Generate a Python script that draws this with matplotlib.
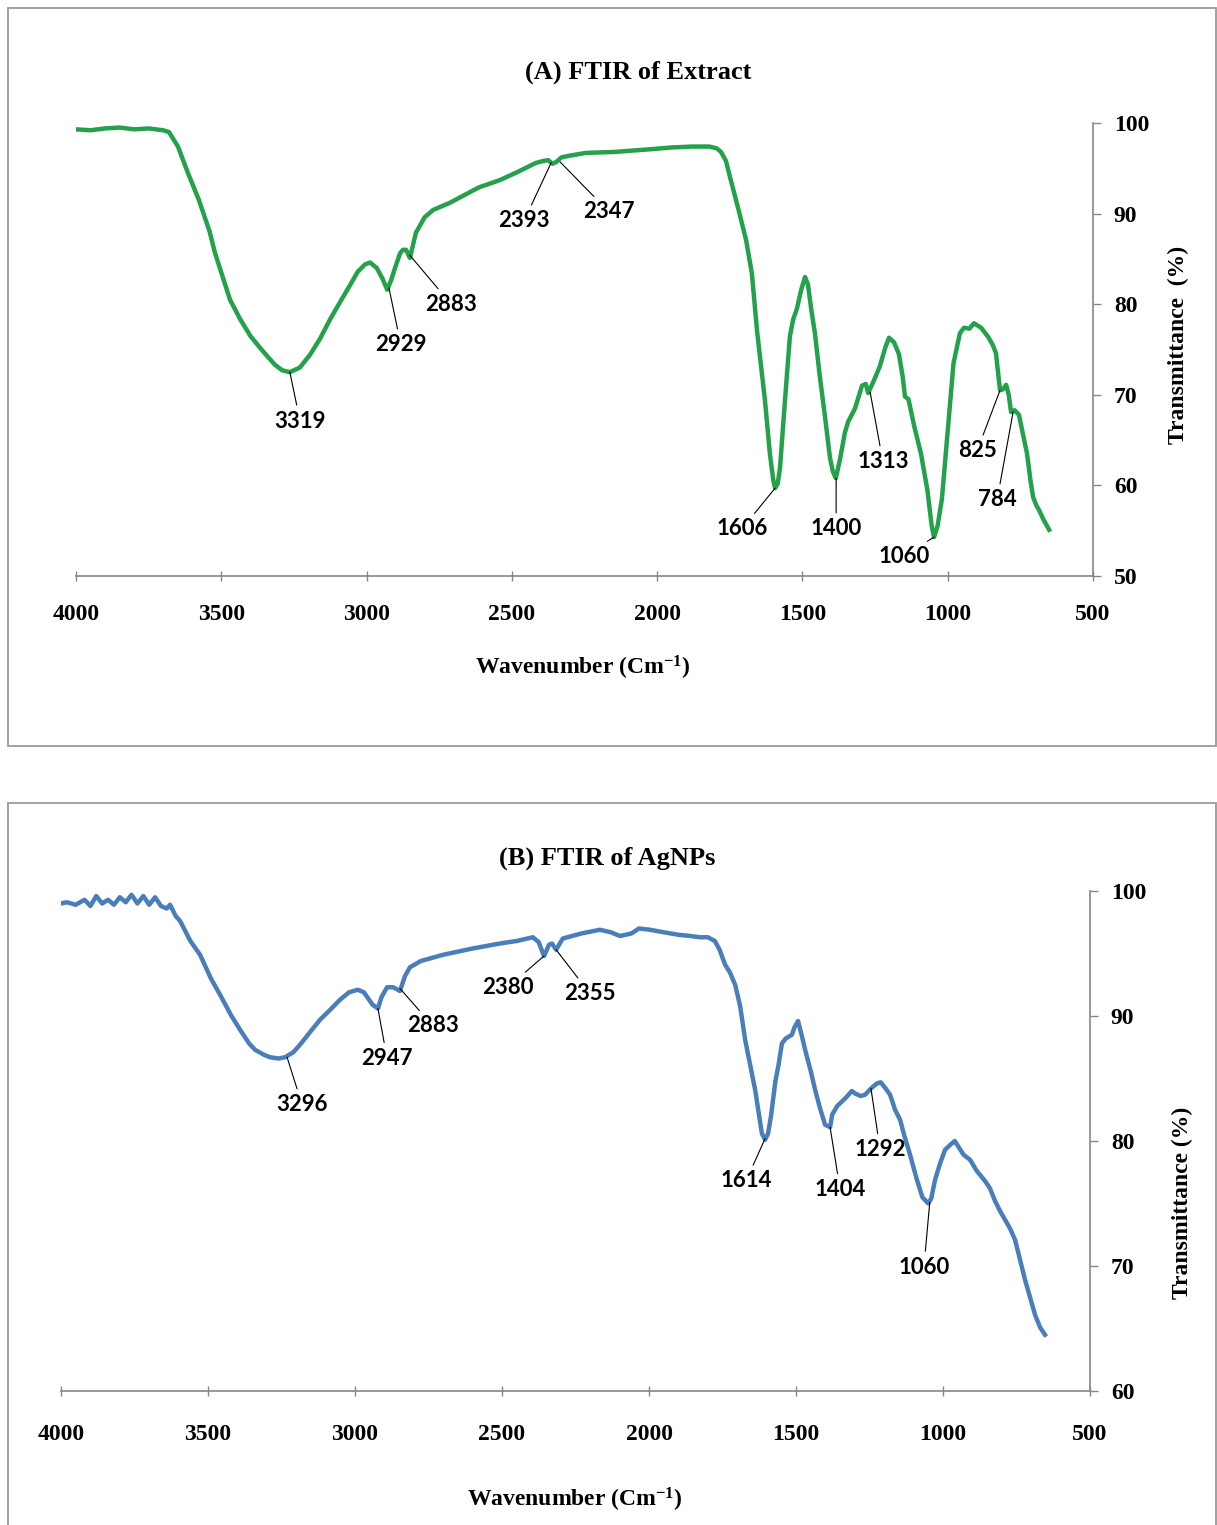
import matplotlib
matplotlib.use("Agg")
import matplotlib.pyplot as plt
from matplotlib.patches import Rectangle

# ---- panel A: FTIR of extract ----
wn_a = [4000, 3950, 3900, 3850, 3800, 3750, 3700, 3680, 3649, 3615, 3577, 3540,
        3522, 3470, 3436, 3400, 3367, 3340, 3315, 3290, 3264, 3230, 3195, 3160,
        3126, 3090, 3057, 3030, 3005, 2988, 2965, 2945, 2929, 2916, 2902, 2885,
        2875, 2864, 2851, 2830, 2800, 2771, 2713, 2613, 2541, 2480, 2417, 2393,
        2375, 2360, 2347, 2330, 2300, 2245, 2150, 2024, 1950, 1880, 1820, 1795,
        1780, 1763, 1749, 1735, 1715, 1694, 1674, 1656, 1640, 1629, 1612, 1600,
        1594, 1585, 1577, 1560, 1543, 1532, 1519, 1505, 1491, 1481, 1470, 1457,
        1440, 1422, 1405, 1395, 1385, 1370, 1354, 1343, 1319, 1295, 1282, 1274,
        1255, 1233, 1215, 1202, 1185, 1168, 1155, 1147, 1135, 1115, 1092, 1070,
        1055, 1047, 1035, 1020, 1000, 980, 958, 944, 925, 910, 885, 861, 845,
        834, 825, 820, 810, 799, 790, 782, 770, 755, 740, 727, 715, 706, 695,
        686, 670, 651]
t_a = [99.3, 99.2, 99.4, 99.5, 99.3, 99.4, 99.2, 99.0, 97.4, 94.5, 91.5, 88.0,
       85.7, 80.5, 78.4, 76.5, 75.2, 74.2, 73.3, 72.7, 72.5, 73.0, 74.4, 76.2,
       78.3, 80.3, 82.1, 83.6, 84.4, 84.6, 84.0, 82.8, 81.6, 82.6, 84.0, 85.6,
       86.0, 86.0, 85.1, 87.9, 89.6, 90.4, 91.2, 92.9, 93.7, 94.6, 95.6, 95.8,
       95.9, 95.5, 95.7, 96.2, 96.4, 96.7, 96.8, 97.1, 97.3, 97.4, 97.4, 97.2,
       96.8, 95.8, 94.0, 92.3, 89.8, 87.1, 83.4, 77.0, 72.5, 69.4, 63.5, 60.5,
       59.7, 60.2, 62.0, 69.4, 76.5, 78.3, 79.5, 81.5, 83.0, 82.2, 79.5, 76.8,
       72.0, 67.5, 63.0, 61.5, 60.8, 63.0, 65.8, 67.0, 68.5, 71.0, 71.2, 70.2,
       71.5, 73.2, 75.2, 76.3, 75.8, 74.5, 72.0, 69.8, 69.5, 66.5, 63.5, 59.5,
       55.5, 54.3, 55.5, 58.5, 66.0, 73.5, 76.8, 77.4, 77.3, 77.9, 77.4, 76.4,
       75.5, 74.6, 72.0, 70.5, 70.6, 71.1, 70.0, 68.1, 68.3, 67.8, 65.5, 63.5,
       60.5, 58.7, 57.8, 57.3, 56.2, 55.1]

peaks_a = ["3319", "2929", "2883", "2393", "2347", "1606", "1400", "1313",
           "1060", "825", "784"]
peak_xy_a = [(3264, 72.5), (2923, 81.8), (2851, 85.4), (2365, 95.6),
             (2334, 95.7), (1594, 59.7), (1384, 60.8), (1267, 70.3),
             (1047, 54.3), (820, 70.5), (775, 68.1)]
label_xy_a = [(3229, 67.1), (2882, 75.5), (2709, 80.0), (2458, 89.2),
              (2166, 90.2), (1708, 55.2), (1384, 55.2), (1223, 62.6),
              (1150, 52.2), (899, 63.8), (830, 58.4)]

# ---- panel B: FTIR of AgNPs ----
wn_b = [4000, 3980, 3950, 3920, 3900, 3880, 3860, 3840, 3820, 3800, 3780, 3760,
        3740, 3720, 3700, 3680, 3660, 3640, 3629, 3610, 3595, 3560, 3527, 3490,
        3459, 3420, 3391, 3360, 3340, 3310, 3289, 3260, 3238, 3210, 3187, 3150,
        3119, 3080, 3051, 3020, 2990, 2970, 2955, 2940, 2922, 2910, 2891, 2870,
        2847, 2830, 2813, 2776, 2700, 2600, 2507, 2450, 2395, 2375, 2357, 2340,
        2330, 2316, 2293, 2230, 2167, 2130, 2099, 2060, 2034, 1997, 1950, 1900,
        1860, 1827, 1800, 1776, 1760, 1741, 1725, 1707, 1690, 1673, 1655, 1639,
        1625, 1616, 1605, 1595, 1585, 1570, 1560, 1548, 1535, 1514, 1505, 1493,
        1480, 1469, 1450, 1435, 1418, 1401, 1384, 1377, 1360, 1333, 1310, 1299,
        1280, 1265, 1245, 1225, 1212, 1195, 1180, 1163, 1146, 1130, 1112, 1090,
        1070, 1050, 1040, 1027, 1010, 993, 975, 960, 949, 930, 908, 885, 857,
        840, 823, 806, 789, 772, 755, 738, 721, 704, 687, 670, 653]
t_b = [99.0, 99.1, 98.9, 99.3, 98.8, 99.6, 99.0, 99.3, 98.9, 99.5, 99.1, 99.7,
       99.0, 99.6, 98.9, 99.5, 98.8, 98.6, 98.9, 98.0, 97.6, 96.0, 94.9, 93.0,
       91.7, 90.0, 88.9, 87.8, 87.3, 86.9, 86.7, 86.6, 86.7, 87.1, 87.7, 88.8,
       89.7, 90.6, 91.3, 91.9, 92.1, 91.9, 91.4, 90.9, 90.6, 91.5, 92.3, 92.3,
       92.0, 93.2, 93.9, 94.4, 94.9, 95.4, 95.8, 96.0, 96.3, 95.9, 94.8, 95.7,
       95.8, 95.3, 96.2, 96.6, 96.9, 96.7, 96.4, 96.6, 97.0, 96.9, 96.7, 96.5,
       96.4, 96.3, 96.3, 96.0, 95.3, 94.1, 93.5, 92.5, 90.8, 88.1, 86.0, 84.1,
       82.0, 80.6, 80.1, 80.6, 82.0, 84.8, 86.0, 87.8, 88.2, 88.5, 89.1, 89.6,
       88.4, 87.3, 85.6, 84.1, 82.6, 81.3, 81.1, 82.1, 82.8, 83.4, 84.0, 83.8,
       83.6, 83.7, 84.2, 84.6, 84.7, 84.2, 83.7, 82.5, 81.7, 80.3, 78.9, 77.0,
       75.5, 75.0, 75.4, 76.9, 78.2, 79.3, 79.7, 80.0, 79.6, 78.9, 78.5, 77.6,
       76.8, 76.2, 75.2, 74.4, 73.7, 73.0, 72.1, 70.5, 68.9, 67.5, 66.1, 65.1,
       64.5]

peaks_b = ["3296", "2947", "2883", "2380", "2355", "1614", "1404", "1292", "1060"]
peak_xy_b = [(3231, 86.7), (2922, 90.6), (2847, 92.2), (2357, 94.8),
             (2316, 95.3), (1605, 80.2), (1384, 81.1), (1245, 84.2),
             (1045, 75.1)]
label_xy_b = [(3180, 82.9), (2891, 86.6), (2735, 89.2), (2480, 92.3),
              (2201, 91.8), (1670, 76.8), (1350, 76.1), (1214, 79.3),
              (1065, 69.9)]

GREEN = "#23a14b"
BLUE = "#4a7ebb"
AXIS_GRAY = "#868686"
SERIF = "Liberation Serif"
LABEL_FONT = "Lato"

plt.rcParams["mathtext.fontset"] = "custom"
plt.rcParams["mathtext.rm"] = "Liberation Serif:bold"
plt.rcParams["mathtext.it"] = "Liberation Serif:bold"
plt.rcParams["mathtext.bf"] = "Liberation Serif:bold"

W, H = 1217, 1525
fig = plt.figure(figsize=(W / 100, H / 100), dpi=100)


def px_box(left, top, right, bottom):
    return [left / W, 1 - bottom / H, (right - left) / W, (bottom - top) / H]


def style_axes(ax, ylim, yticks, xpad):
    ax.set_xlim(4000, 500)
    ax.set_ylim(*ylim)
    ax.set_xticks(range(4000, 499, -500))
    ax.set_yticks(yticks)
    for side in ["left", "top"]:
        ax.spines[side].set_visible(False)
    for side in ["bottom", "right"]:
        ax.spines[side].set_color(AXIS_GRAY)
        ax.spines[side].set_linewidth(1.2)
    ax.yaxis.tick_right()
    ax.tick_params(axis="x", direction="inout", length=7, width=1,
                   color=AXIS_GRAY, pad=xpad)
    ax.tick_params(axis="y", direction="out", length=6, width=1,
                   color=AXIS_GRAY, pad=9)
    for lab in ax.get_xticklabels() + ax.get_yticklabels():
        lab.set_fontfamily(SERIF)
        lab.set_fontweight("bold")
        lab.set_fontsize(17)


def add_peaks(ax, names, xy, xytext):
    for name, p, t in zip(names, xy, xytext):
        ax.annotate(name, xy=p, xytext=t, ha="center", va="center",
                    fontsize=16, fontweight="bold", family=LABEL_FONT,
                    arrowprops=dict(arrowstyle="-", color="black", lw=0.8,
                                    shrinkA=2, shrinkB=0))


# frames around each panel
fig.add_artist(Rectangle((8 / W, 1 - 746 / H), 1208 / W, 738 / H,
                         transform=fig.transFigure, fill=False,
                         ec="#9a9a9a", lw=1.3))
fig.add_artist(Rectangle((8 / W, -0.01), 1208 / W, 1 - 803 / H + 0.01,
                         transform=fig.transFigure, fill=False,
                         ec="#9a9a9a", lw=1.3))

# panel A
ax_a = fig.add_axes(px_box(76, 123, 1093, 576))
ax_a.plot(wn_a, t_a, color=GREEN, lw=3.2, solid_joinstyle="round")
style_axes(ax_a, (50, 100), range(50, 101, 10), 17)
add_peaks(ax_a, peaks_a, peak_xy_a, label_xy_a)
fig.text(638 / W, 1 - 72 / H, "(A) FTIR of Extract", ha="center", va="center",
         family=SERIF, fontweight="bold", fontsize=19)
fig.text(583 / W, 1 - 668 / H, "Wavenumber (Cm$^{-1}$)", ha="center",
         va="center", family=SERIF, fontweight="bold", fontsize=17)
fig.text(1178 / W, 1 - 345 / H, "Transmittance  (%)", ha="center",
         va="center", rotation=90, family=SERIF, fontweight="bold",
         fontsize=17)

# panel B
ax_b = fig.add_axes(px_box(61, 891, 1090, 1391))
ax_b.plot(wn_b, t_b, color=BLUE, lw=3.2, solid_joinstyle="round")
style_axes(ax_b, (60, 100), range(60, 101, 10), 20)
add_peaks(ax_b, peaks_b, peak_xy_b, label_xy_b)
fig.text(607 / W, 1 - 858 / H, "(B) FTIR of AgNPs", ha="center", va="center",
         family=SERIF, fontweight="bold", fontsize=19)
fig.text(575 / W, 1 - 1500 / H, "Wavenumber (Cm$^{-1}$)", ha="center",
         va="center", family=SERIF, fontweight="bold", fontsize=17)
fig.text(1182 / W, 1 - 1203 / H, "Transmittance (%)", ha="center",
         va="center", rotation=90, family=SERIF, fontweight="bold",
         fontsize=17)

fig.savefig("out.png", dpi=100)
